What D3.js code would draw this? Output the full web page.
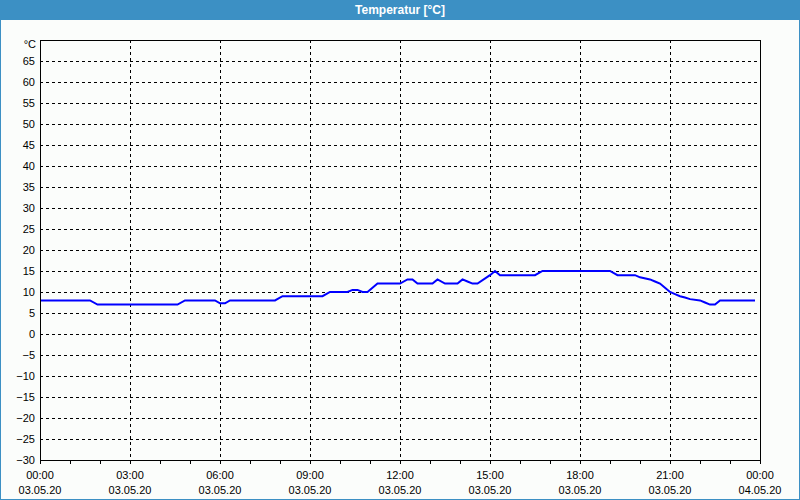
<!DOCTYPE html>
<html><head><meta charset="utf-8">
<script src="https://cdn.jsdelivr.net/npm/d3@7"></script>
<style>html,body{margin:0;padding:0;background:#fbfdfb;}svg{display:block;}</style>
</head><body>
<script>
const title = "Temperatur [°C]";
const unitLabel = "°C";
const yTicks = [-30,-25,-20,-15,-10,-5,0,5,10,15,20,25,30,35,40,45,50,55,60,65];
const xTickHours = [0,3,6,9,12,15,18,21,24];
const xTickTimes = ["00:00","03:00","06:00","09:00","12:00","15:00","18:00","21:00","00:00"];
const xTickDates = ["03.05.20","03.05.20","03.05.20","03.05.20","03.05.20","03.05.20","03.05.20","03.05.20","04.05.20"];
const times = ["00:00","01:40","01:55","04:35","04:50","05:50","06:00","06:10","06:20","07:50","08:05","09:25","09:40","10:15","10:25","10:35","10:45","10:55","11:15","12:00","12:15","12:25","12:35","13:05","13:15","13:30","13:55","14:05","14:15","14:25","14:35","15:00","15:10","15:20","16:30","16:45","19:00","19:15","19:50","20:00","20:20","20:30","20:40","20:50","21:00","21:10","21:20","21:30","21:40","22:00","22:10","22:20","22:30","22:40","23:50"];
const temps = [8,8,7,7,8,8,7.3,7.3,8,8,9,9,10,10,10.5,10.5,10,10,12,12,13,13,12,12,13,12,12,13,12.5,12,12,14,15,14,14,15,15,14,14,13.5,13,12.5,12,11,10,9.5,9,8.7,8.3,8,7.5,7,7,8,8];

const W = 800, H = 500;
const svg = d3.select("body").append("svg").attr("width", W).attr("height", H);
const font = "'Liberation Sans', Arial, sans-serif";

// window frame + title bar
svg.append("rect").attr("x",0).attr("y",0).attr("width",W).attr("height",H).attr("fill","#fbfdfb");
svg.append("rect").attr("x",0).attr("y",0).attr("width",W).attr("height",20).attr("fill","#3c90c4");
svg.append("rect").attr("x",0.5).attr("y",0.5).attr("width",W-1).attr("height",H-1).attr("fill","none").attr("stroke","#3c90c4").attr("stroke-width",1);
svg.append("text").attr("x",W/2).attr("y",14).attr("text-anchor","middle")
  .attr("fill","#fff").attr("font-family",font).attr("font-weight","bold").attr("font-size",12).text(title);

const L=40, R=760, T=40, B=460;
const x = d3.scaleLinear().domain([0,24]).range([L,R]);
const y = d3.scaleLinear().domain([-30,70]).range([B,T]);
const toH = s => { const [h,m] = s.split(":").map(Number); return h + m/60; };

// horizontal grid
svg.append("g").selectAll("line").data(yTicks.filter(v=>v>-30)).join("line")
  .attr("x1",L).attr("x2",R).attr("y1",d=>Math.round(y(d))+0.5).attr("y2",d=>Math.round(y(d))+0.5)
  .attr("stroke","#000").attr("stroke-dasharray","3,3");
// vertical grid
svg.append("g").selectAll("line").data(xTickHours.filter(h=>h>0&&h<24)).join("line")
  .attr("x1",d=>Math.round(x(d))+0.5).attr("x2",d=>Math.round(x(d))+0.5).attr("y1",T).attr("y2",B)
  .attr("stroke","#000").attr("stroke-dasharray","3,3");

// bottom axis minor ticks
const xAxis = d3.axisBottom(x).tickValues(d3.range(0,25,1)).tickSize(4).tickFormat("");
const gx = svg.append("g").attr("transform",`translate(0,${B})`).call(xAxis);
gx.select(".domain").remove();
gx.selectAll("line").attr("stroke","#000");

// y labels
const yAxis = d3.axisLeft(y).tickValues(yTicks).tickSize(0).tickPadding(5);
const gy = svg.append("g").attr("transform",`translate(${L},0)`).call(yAxis);
gy.select(".domain").remove();
gy.selectAll("text").attr("font-family",font).attr("font-size",11).attr("fill","#000");
svg.append("text").attr("x",L-4).attr("y",y(70)+8).attr("text-anchor","end")
  .attr("font-family",font).attr("font-size",11).text(unitLabel);

// x labels
const xl = svg.append("g");
xl.selectAll("text.t").data(xTickHours).join("text").attr("class","t")
  .attr("x",d=>x(d)).attr("y",479).attr("text-anchor","middle")
  .attr("font-family",font).attr("font-size",11).text((d,i)=>xTickTimes[i]);
xl.selectAll("text.d").data(xTickHours).join("text").attr("class","d")
  .attr("x",d=>x(d)).attr("y",494).attr("text-anchor","middle")
  .attr("font-family",font).attr("font-size",11).text((d,i)=>xTickDates[i]);

// data line
const data = times.map((t,i)=>({h:toH(t), v:temps[i]}));
svg.append("path").datum(data)
  .attr("fill","none").attr("stroke","#0000ff").attr("stroke-width",2)
  .attr("d", d3.line().x(d=>x(d.h)).y(d=>y(d.v)));

// frame
svg.append("rect").attr("x",L+0.5).attr("y",T+0.5).attr("width",R-L).attr("height",B-T)
  .attr("fill","none").attr("stroke","#000");
</script>
</body></html>
